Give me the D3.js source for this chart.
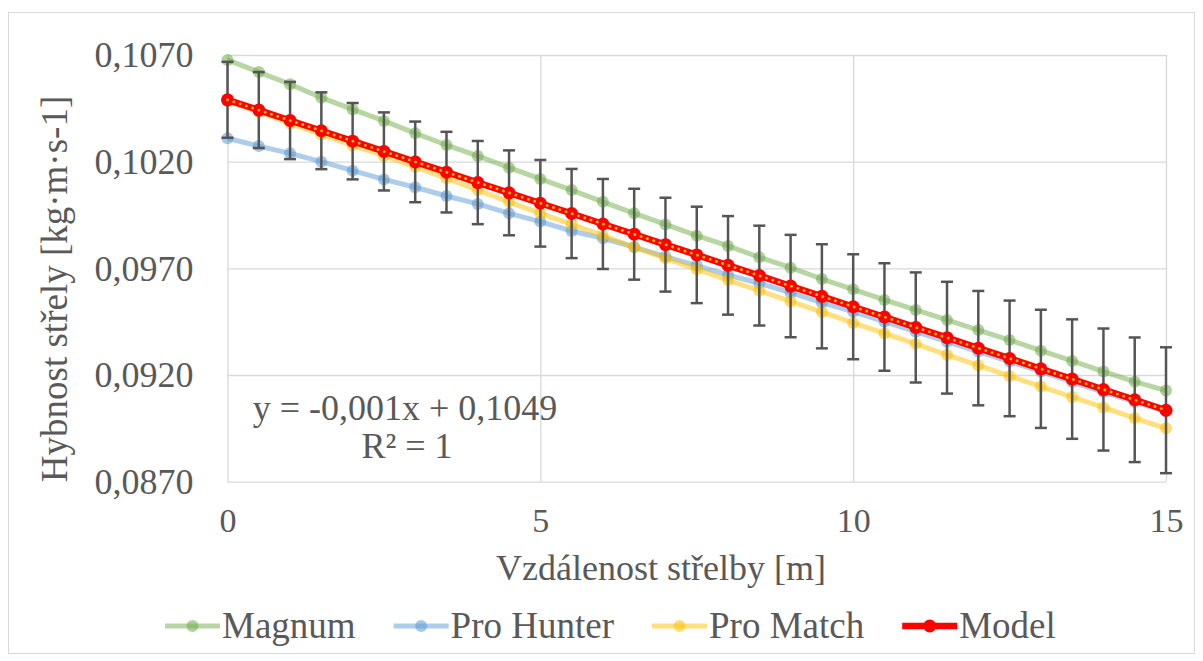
<!DOCTYPE html>
<html><head><meta charset="utf-8">
<script src="https://cdn.jsdelivr.net/npm/d3@7"></script>
</head><body style="margin:0;background:#fff">
<svg id="c" width="1203" height="661" font-family="Liberation Serif"></svg>
<script>
// ---- data ----
const distances = [0,0.5,1,1.5,2,2.5,3,3.5,4,4.5,5,5.5,6,6.5,7,7.5,8,8.5,9,9.5,10,10.5,11,11.5,12,12.5,13,13.5,14,14.5,15];
const magnum = [0.10677,0.10620,0.10563,0.10500,0.10445,0.10391,0.10333,0.10278,0.10227,0.10172,0.10119,0.10067,0.10012,0.09958,0.09906,0.09853,0.09805,0.09752,0.09703,0.09650,0.09602,0.09552,0.09505,0.09458,0.09411,0.09364,0.09314,0.09266,0.09216,0.09169,0.09127];
const proHunter = [0.10310,0.10273,0.10239,0.10200,0.10158,0.10117,0.10080,0.10039,0.10002,0.09958,0.09919,0.09875,0.09841,0.09800,0.09755,0.09713,0.09669,0.09630,0.09586,0.09539,0.09497,0.09450,0.09403,0.09356,0.09310,0.09263,0.09216,0.09167,0.09120,0.09074,0.09029];
const proMatch = [0.10484,0.10433,0.10379,0.10327,0.10276,0.10227,0.10175,0.10122,0.10067,0.10012,0.09958,0.09906,0.09853,0.09799,0.09747,0.09696,0.09645,0.09595,0.09545,0.09495,0.09444,0.09395,0.09346,0.09294,0.09245,0.09195,0.09146,0.09097,0.09048,0.08998,0.08950];
const model = [0.10490,0.10442,0.10393,0.10345,0.10296,0.10248,0.10199,0.10151,0.10102,0.10054,0.10005,0.09957,0.09908,0.09860,0.09811,0.09763,0.09714,0.09666,0.09617,0.09569,0.09520,0.09472,0.09423,0.09375,0.09326,0.09278,0.09229,0.09181,0.09132,0.09084,0.09035];
const modelError = [0.00178,0.00178,0.00181,0.00180,0.00179,0.00183,0.00189,0.00189,0.00195,0.00199,0.00203,0.00209,0.00211,0.00213,0.00220,0.00226,0.00231,0.00234,0.00240,0.00244,0.00246,0.00252,0.00258,0.00262,0.00268,0.00271,0.00277,0.00280,0.00286,0.00292,0.00295];
const xTicks = [0,5,10,15];
const yTicks = [0.087,0.092,0.097,0.102,0.107];
const yTickLabels = ["0,0870","0,0920","0,0970","0,1020","0,1070"];
const seriesNames = ["Magnum","Pro Hunter","Pro Match","Model"];
const seriesColors = ["#70AD47","#5B9BD5","#FFC000","#FF0000"];
const trendLabel = ["y = -0,001x + 0,1049","R² = 1"];
const xTitle = "Vzdálenost střelby [m]";
const yTitle = "Hybnost střely [kg·m·s-1]";

const FONT = "Liberation Serif";
const TXT = "#595959";

// ---- layout ----
const svg = d3.select("#c");
const L = 227.5, R = 1166, T = 55, B = 481.7;
const x = d3.scaleLinear().domain([0,15]).range([L,R]);
const y = d3.scaleLinear().domain([0.087,0.107]).range([B,T]);

svg.append("rect").attr("x",8.5).attr("y",12.5).attr("width",1186).attr("height",641)
  .attr("fill","#fff").attr("stroke","#d9d9d9").attr("stroke-width",1);

// gridlines
const gy = svg.append("g").attr("transform",`translate(${L},0)`)
  .call(d3.axisLeft(y).tickValues(yTicks).tickSize(-(R-L)).tickFormat(""));
gy.select(".domain").remove();
gy.selectAll("line").attr("stroke","#d9d9d9").attr("stroke-width",1.3);
const gx = svg.append("g").attr("transform",`translate(0,${B})`)
  .call(d3.axisBottom(x).tickValues(xTicks).tickSize(-(B-T)).tickFormat(""));
gx.select(".domain").remove();
gx.selectAll("line").attr("stroke","#d9d9d9").attr("stroke-width",1.3);

// tick labels
const ya = svg.append("g").attr("transform",`translate(${L},0)`)
  .call(d3.axisLeft(y).tickValues(yTicks).tickSize(0).tickPadding(34)
    .tickFormat((d,i)=>yTickLabels[i]));
ya.attr("font-family",FONT).attr("font-size",36);
ya.select(".domain").remove();
ya.selectAll("text").attr("fill",TXT).attr("dy","0.33em");
const xa = svg.append("g").attr("transform",`translate(0,${B})`)
  .call(d3.axisBottom(x).tickValues(xTicks).tickSize(0).tickPadding(33)
    .tickFormat(d3.format("d")));
xa.attr("font-family",FONT).attr("font-size",34);
xa.select(".domain").remove();
xa.selectAll("text").attr("fill",TXT).attr("dy","0.5em");

function label(px,py,str,size,anchor,transform){
  const t = svg.append("text").attr("text-anchor",anchor||"start")
    .attr("font-family",FONT).attr("font-size",size).attr("fill",TXT).text(str);
  if(transform) t.attr("transform",transform); else t.attr("x",px).attr("y",py);
  return t;
}
// axis titles
label(661,580,xTitle,36,"middle");
label(0,0,yTitle,37,"middle","translate(67,289) rotate(-90)");

// series
const pts = arr => arr.map((v,i)=>[distances[i],v]);
const line = d3.line().x(d=>x(d[0])).y(d=>y(d[1]));
[magnum, proHunter, proMatch].forEach((arr,k)=>{
  const g = svg.append("g");
  g.append("path").datum(pts(arr)).attr("d",line).attr("fill","none")
    .attr("stroke",seriesColors[k]).attr("stroke-opacity",0.5).attr("stroke-width",5)
    .attr("stroke-linejoin","round");
  g.selectAll("circle").data(pts(arr)).join("circle")
    .attr("cx",d=>x(d[0])).attr("cy",d=>y(d[1])).attr("r",6)
    .attr("fill",seriesColors[k]).attr("fill-opacity",0.55);
});

// error bars (model)
const eb = svg.append("g").attr("stroke","#555555").attr("stroke-width",2.5);
distances.forEach((d,i)=>{
  const cx = x(d), y1 = y(model[i]+modelError[i]), y2 = y(model[i]-modelError[i]);
  eb.append("line").attr("x1",cx).attr("x2",cx).attr("y1",y1).attr("y2",y2);
  eb.append("line").attr("x1",cx-6).attr("x2",cx+6).attr("y1",y1).attr("y2",y1);
  eb.append("line").attr("x1",cx-6).attr("x2",cx+6).attr("y1",y2).attr("y2",y2);
});

// model
svg.append("path").datum(pts(model)).attr("d",line).attr("fill","none")
  .attr("stroke","#FF0000").attr("stroke-width",6.5).attr("stroke-linejoin","round");
svg.append("g").selectAll("circle").data(pts(model)).join("circle")
  .attr("cx",d=>x(d[0])).attr("cy",d=>y(d[1])).attr("r",6.5).attr("fill","#FF0000");

// linear trendline of model (least squares)
const mx = d3.mean(distances), my = d3.mean(model);
const slope = d3.sum(distances.map((d,i)=>(d-mx)*(model[i]-my)))/d3.sum(distances.map(d=>(d-mx)*(d-mx)));
const icpt = my - slope*mx;
svg.append("line").attr("x1",x(0)).attr("y1",y(icpt)).attr("x2",x(15)).attr("y2",y(icpt+slope*15))
  .attr("stroke","#FFC000").attr("stroke-width",2.8).attr("stroke-linecap","round")
  .attr("stroke-dasharray","0.1,6.5");

// trendline label
label(405,420,trendLabel[0],36,"middle");
label(407,458,trendLabel[1],36,"middle");

// legend
let lx = 165; const ly = 626;
seriesNames.forEach((name,k)=>{
  const isModel = k===3;
  svg.append("line").attr("x1",lx).attr("x2",lx+55).attr("y1",ly).attr("y2",ly)
    .attr("stroke",seriesColors[k]).attr("stroke-width",isModel?6.5:5)
    .attr("stroke-opacity",isModel?1:0.5);
  svg.append("circle").attr("cx",lx+27.5).attr("cy",ly).attr("r",isModel?6.5:6)
    .attr("fill",seriesColors[k]).attr("fill-opacity",isModel?1:0.55);
  const t = label(lx+57,ly+12,name,37,"start");
  lx = lx + 57 + t.node().getComputedTextLength() + 38;
});
</script>
</body></html>
